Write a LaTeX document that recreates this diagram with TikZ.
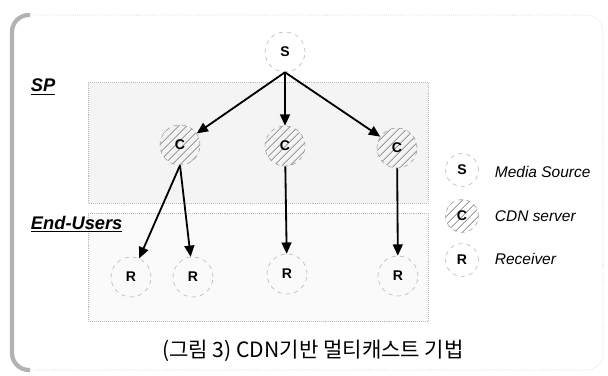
\documentclass[tikz,border=0pt]{standalone}
\usepackage{fontspec}
\setmainfont{Liberation Sans}
\newfontfamily\krfont{Noto Sans CJK KR}
\usetikzlibrary{arrows.meta,patterns.meta}

\tikzset{
  peer/.style={circle, draw=gray!60, dashed, minimum size=1cm, inner sep=0pt, font=\bfseries\normalsize},
  cdn/.style={peer, draw=gray!80, pattern={Lines[angle=45,distance=4pt,line width=0.5pt]}, pattern color=gray!90!black},
  small/.style={minimum size=0.82cm},
  feed/.style={-{Triangle[length=8pt,width=7pt]}, line width=1.3pt},
  zone/.style={draw=gray!55, densely dotted},
  zonelabel/.style={anchor=west, font=\bfseries\itshape\fontsize{13}{15}\selectfont},
  legendtext/.style={anchor=west, font=\itshape\fontsize{11}{13}\selectfont}
}

\begin{document}
\begin{tikzpicture}[x=0.025cm, y=-0.025cm]
			\useasboundingbox (0,0) rectangle (608,376);

			% frame
			\draw[gray!45, densely dotted, rounded corners=12] (12,15) rectangle (603,370);
			\draw[gray!60, line width=3pt, rounded corners=12] (30,15) -- (12,15) -- (12,370) -- (30,370);

			% zones
			\draw[zone, fill=gray!9] (88,82) rectangle (428,203);
			\draw[zone, fill=gray!4] (88,213) rectangle (428,321);
			\node[zonelabel] (splbl) at (26,87) {\underline{SP}};
			\node[zonelabel] (eulbl) at (26,224) {\underline{End-Users}};

			% nodes
			\node[peer] (src) at (285,52) {S};
			\node[cdn] (c1) at (180,145) {C};
			\node[cdn] (c2) at (285,146) {C};
			\node[cdn] (c3) at (397,148) {C};
			\node[peer] (r1) at (131,277) {R};
			\node[peer] (r2) at (193,277) {R};
			\node[peer] (r3) at (287,274) {R};
			\node[peer] (r4) at (398,276) {R};

			% arrows
			\draw[feed] (src.south) -- (c1);
			\draw[feed] (src.south) -- (c2);
			\draw[feed] (src.south) -- (c3);
			\draw[feed] (c1.south) -- (r1);
			\draw[feed] (c1.south) -- (r2);
			\draw[feed] (c2) -- (r3);
			\draw[feed] (c3) -- (r4);

			% legend
			\node[peer, small] (ls) at (462,170) {S};
			\node[cdn, small] (lc) at (462,216) {C};
			\node[peer, small] (lr) at (462,260) {R};
			\node[legendtext] (lstext) at (490,172) {Media Source};
			\node[legendtext] (lctext) at (490,216) {CDN server};
			\node[legendtext] (lrtext) at (490,259) {Receiver};

			% caption
			\node[font=\krfont\fontsize{15}{17}\selectfont] (cap) at (313,351) {(그림 3) CDN기반 멀티캐스트 기법};
		\end{tikzpicture}
\end{document}
